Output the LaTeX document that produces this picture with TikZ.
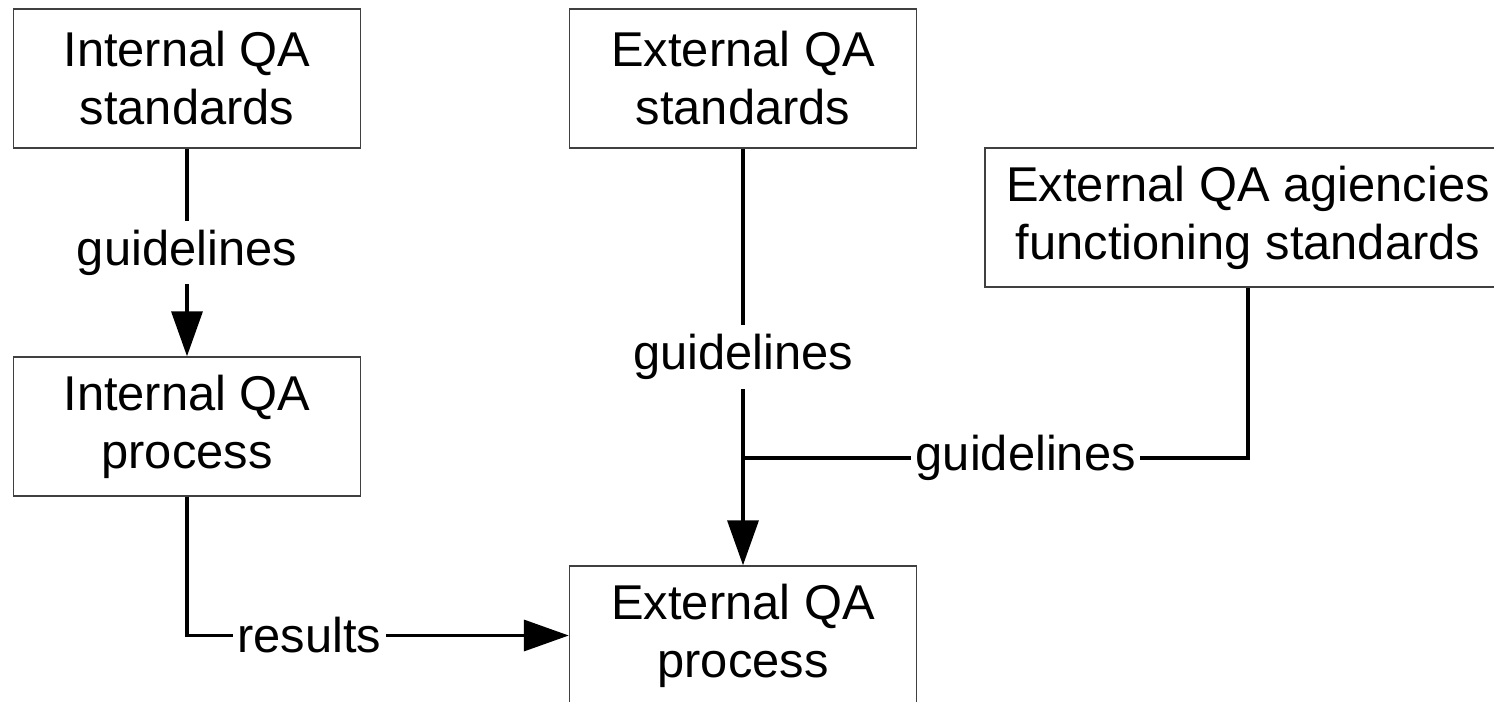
\documentclass[tikz,border=0pt]{standalone}
\usepackage{fontspec}
\setmainfont{Liberation Sans}
\usepackage{tikz}
\usetikzlibrary{arrows.meta, calc, positioning}

\begin{document}
\begin{tikzpicture}[
    box/.style={draw=black!75, line width=0.8pt, align=center, minimum width=6.94cm, minimum height=2.78cm, inner sep=0pt, font=\fontsize{27.8}{33}\selectfont},
    lbl/.style={fill=white, inner xsep=2.5pt, inner ysep=5pt, font=\fontsize{27.8}{33}\selectfont},
    conn/.style={line width=2pt, -{Triangle[length=0.9cm, width=0.62cm]}}
]
\useasboundingbox (0,0) rectangle (29.88,14.02);

\node[box] (is) at (3.74,12.45) {Internal QA\\standards};
\node[box] (es) at (14.86,12.45) {External QA\\standards};
\node[box, minimum width=10.52cm] (ag) at (24.96,9.67) {External QA agiencies\\functioning standards};
\node[box] (ip) at (3.74,5.49) {Internal QA\\process};
\node[box] (ep) at (14.86,1.31) {External QA\\process};
\coordinate (join) at (14.86,4.86);

\draw[conn] (is) -- node[lbl] {guidelines} (ip);
\draw[conn] (es) -- node[lbl] {guidelines} (ep);
\draw[line width=2pt] (ag.south) |- node[lbl, pos=0.72] {guidelines} (join);
\draw[conn] (ip.south) |- node[lbl, pos=0.66] {results} (ep.west);
\end{tikzpicture}
\end{document}
